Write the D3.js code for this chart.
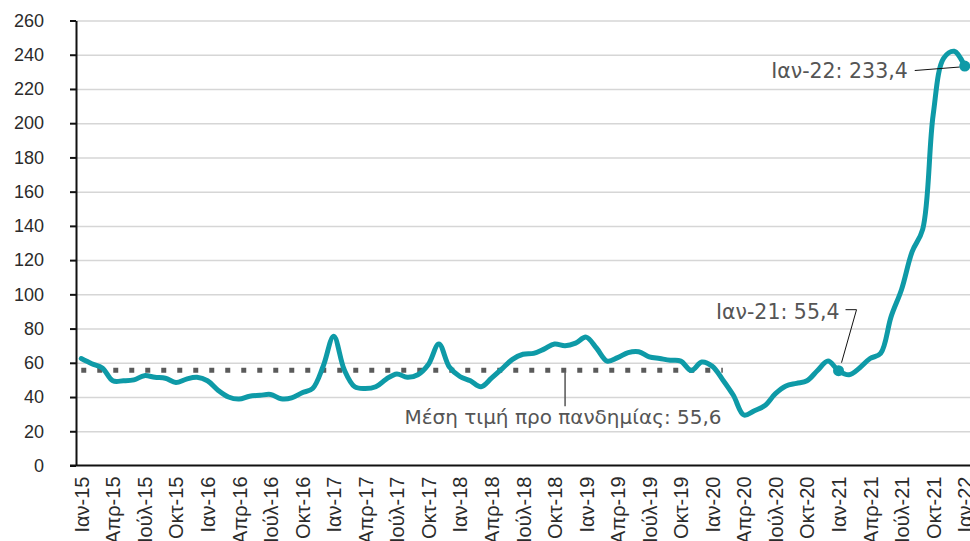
<!DOCTYPE html>
<html>

<head>
  <meta charset="utf-8">
  <script src="https://d3js.org/d3.v7.min.js"></script>
  <style>
    body { margin: 0; background: #fff; }
    svg { display: block; font-family: "DejaVu Sans", sans-serif; }
  </style>
</head>

<body>
  <div id="my_dataviz"></div>
  <script>
    // categories: monthly, Ιαν-15 .. Ιαν-22
    var monthNames = ["Ιαν", "Φεβ", "Μαρ", "Απρ", "Μαΐ", "Ιούν", "Ιούλ", "Αύγ", "Σεπ", "Οκτ", "Νοέ", "Δεκ"];
    var years = ["15", "16", "17", "18", "19", "20", "21", "22"];
    var months = [];
    years.forEach(function (y) {
      monthNames.forEach(function (m) { months.push(m + "-" + y); });
    });
    months = months.slice(0, 85);

    var values = [
      62.5, 59.5, 57, 49.5, 49.5, 50, 52.5, 51.5, 51, 48.5, 50.5, 51.5,
      49.5, 44, 40, 38.8, 40.5, 41, 41.5, 39, 39.5, 42.5, 45, 58,
      75.5, 56, 46, 45, 46, 50.5, 53.5, 51.5, 53, 59, 71, 57.5,
      52, 49.5, 46, 51, 56.5, 62, 65, 65.5, 68, 71, 70, 71.5,
      75, 68.5, 61, 63, 66, 66.5, 63.5, 62.5, 61.5, 61, 55.5, 60.5,
      58, 50, 41, 29.5, 32, 35, 42, 46.5, 48, 49.5, 55.5, 61,
      55.4, 53, 57, 62.5, 65.5, 87, 103, 125, 138, 205, 238, 242,
      233.4
    ];

    var preAvg = 55.6;          // μέση τιμή προ πανδημίας
    var preAvgMonths = months.slice(0, 62);   // Ιαν-15 .. Φεβ-20
    var yTicks = d3.range(0, 261, 20);
    var xTicks = months.filter(function (d, i) { return i % 3 === 0; });

    var width = 970, height = 541;
    var margin = { top: 20.5, right: 0, bottom: 75.5, left: 76 };

    var svg = d3.select("#my_dataviz")
      .append("svg")
      .attr("width", width)
      .attr("height", height);

    var x = d3.scalePoint()
      .domain(months)
      .range([margin.left, width - margin.right])
      .padding(0.5);

    var y = d3.scaleLinear()
      .domain([0, 260])
      .range([height - margin.bottom, margin.top]);

    // grid
    svg.append("g")
      .attr("transform", "translate(" + margin.left + ",0)")
      .call(d3.axisRight(y).tickValues(yTicks.slice(1)).tickSize(width - margin.left).tickFormat(""))
      .call(function (g) { g.select(".domain").remove(); })
      .selectAll("line")
      .attr("stroke", "#d6d6d6")
      .attr("stroke-width", 1.5);

    // Y axis
    var yAxis = svg.append("g")
      .attr("transform", "translate(" + margin.left + ",0)")
      .call(d3.axisLeft(y).tickValues(yTicks).tickSize(6).tickPadding(26).tickSizeOuter(0));
    yAxis.select(".domain").attr("stroke", "#111").attr("stroke-width", 2);
    yAxis.selectAll(".tick line").attr("stroke", "#111").attr("stroke-width", 2);
    yAxis.selectAll("text")
      .attr("fill", "#2b2b2b")
      .style("font-size", "18px");

    // X axis
    var xAxis = svg.append("g")
      .attr("transform", "translate(0," + y(0) + ")")
      .call(d3.axisBottom(x).tickValues(xTicks).tickSize(0).tickSizeOuter(0));
    xAxis.select(".domain")
      .attr("d", "M" + (margin.left - 6) + ",0H" + width)
      .attr("stroke", "#111").attr("stroke-width", 2);
    xAxis.selectAll("text")
      .attr("fill", "#2b2b2b")
      .style("font-size", "20px")
      .attr("text-anchor", "end")
      .attr("transform", "translate(0,11)rotate(-90)")
      .attr("x", 0)
      .attr("y", 0)
      .attr("dy", "0.35em");

    // Dotted pre-pandemic average
    svg.append("path")
      .datum(preAvgMonths)
      .attr("fill", "none")
      .attr("stroke", "#5a5a5a")
      .attr("stroke-width", 5)
      .attr("stroke-dasharray", "5,11")
      .attr("d", d3.line()
        .x(function (d) { return x(d); })
        .y(function () { return y(preAvg); }));

    // Main line
    var color = "#0e9aa7";
    svg.append("path")
      .datum(values)
      .attr("fill", "none")
      .attr("stroke", color)
      .attr("stroke-width", 5)
      .attr("stroke-linejoin", "round")
      .attr("stroke-linecap", "round")
      .attr("d", d3.line()
        .curve(d3.curveCatmullRom.alpha(0.5))
        .x(function (d, i) { return x(months[i]); })
        .y(function (d) { return y(d); }));

    // mean annotation
    var mx = x(months[46]);
    svg.append("line")
      .attr("x1", mx).attr("x2", mx)
      .attr("y1", y(preAvg) + 2).attr("y2", y(preAvg) + 36)
      .attr("stroke", "#555").attr("stroke-width", 1.5);
    svg.append("text")
      .attr("x", mx - 2)
      .attr("y", y(preAvg) + 54)
      .attr("text-anchor", "middle")
      .attr("fill", "#555")
      .style("font-size", "20px")
      .text("Μέση τιμή προ πανδημίας: 55,6");

    // Ιαν-21 annotation
    var p21 = { x: x("Ιαν-21"), y: y(values[72]) };
    svg.append("polyline")
      .attr("points", [[p21.x + 7, p21.y - 61], [p21.x + 18, p21.y - 61], [p21.x + 3, p21.y - 8]].join(" "))
      .attr("fill", "none").attr("stroke", "#111").attr("stroke-width", 1);
    svg.append("text")
      .attr("x", p21.x + 1)
      .attr("y", p21.y - 52)
      .attr("text-anchor", "end")
      .attr("fill", "#555")
      .style("font-size", "20.5px")
      .text("Ιαν-21: 55,4");
    svg.append("circle")
      .attr("cx", p21.x).attr("cy", p21.y).attr("r", 5.5).attr("fill", color);

    // Ιαν-22 annotation
    var p22 = { x: x("Ιαν-22"), y: y(values[84]) };
    svg.append("line")
      .attr("x1", p22.x - 50).attr("y1", p22.y + 4.5)
      .attr("x2", p22.x - 5).attr("y2", p22.y + 1)
      .attr("stroke", "#111").attr("stroke-width", 1);
    svg.append("text")
      .attr("x", p22.x - 57)
      .attr("y", p22.y + 12)
      .attr("text-anchor", "end")
      .attr("fill", "#555")
      .style("font-size", "20.5px")
      .text("Ιαν-22: 233,4");
    svg.append("circle")
      .attr("cx", p22.x).attr("cy", p22.y).attr("r", 5.5).attr("fill", color);
  </script>
</body>

</html>
